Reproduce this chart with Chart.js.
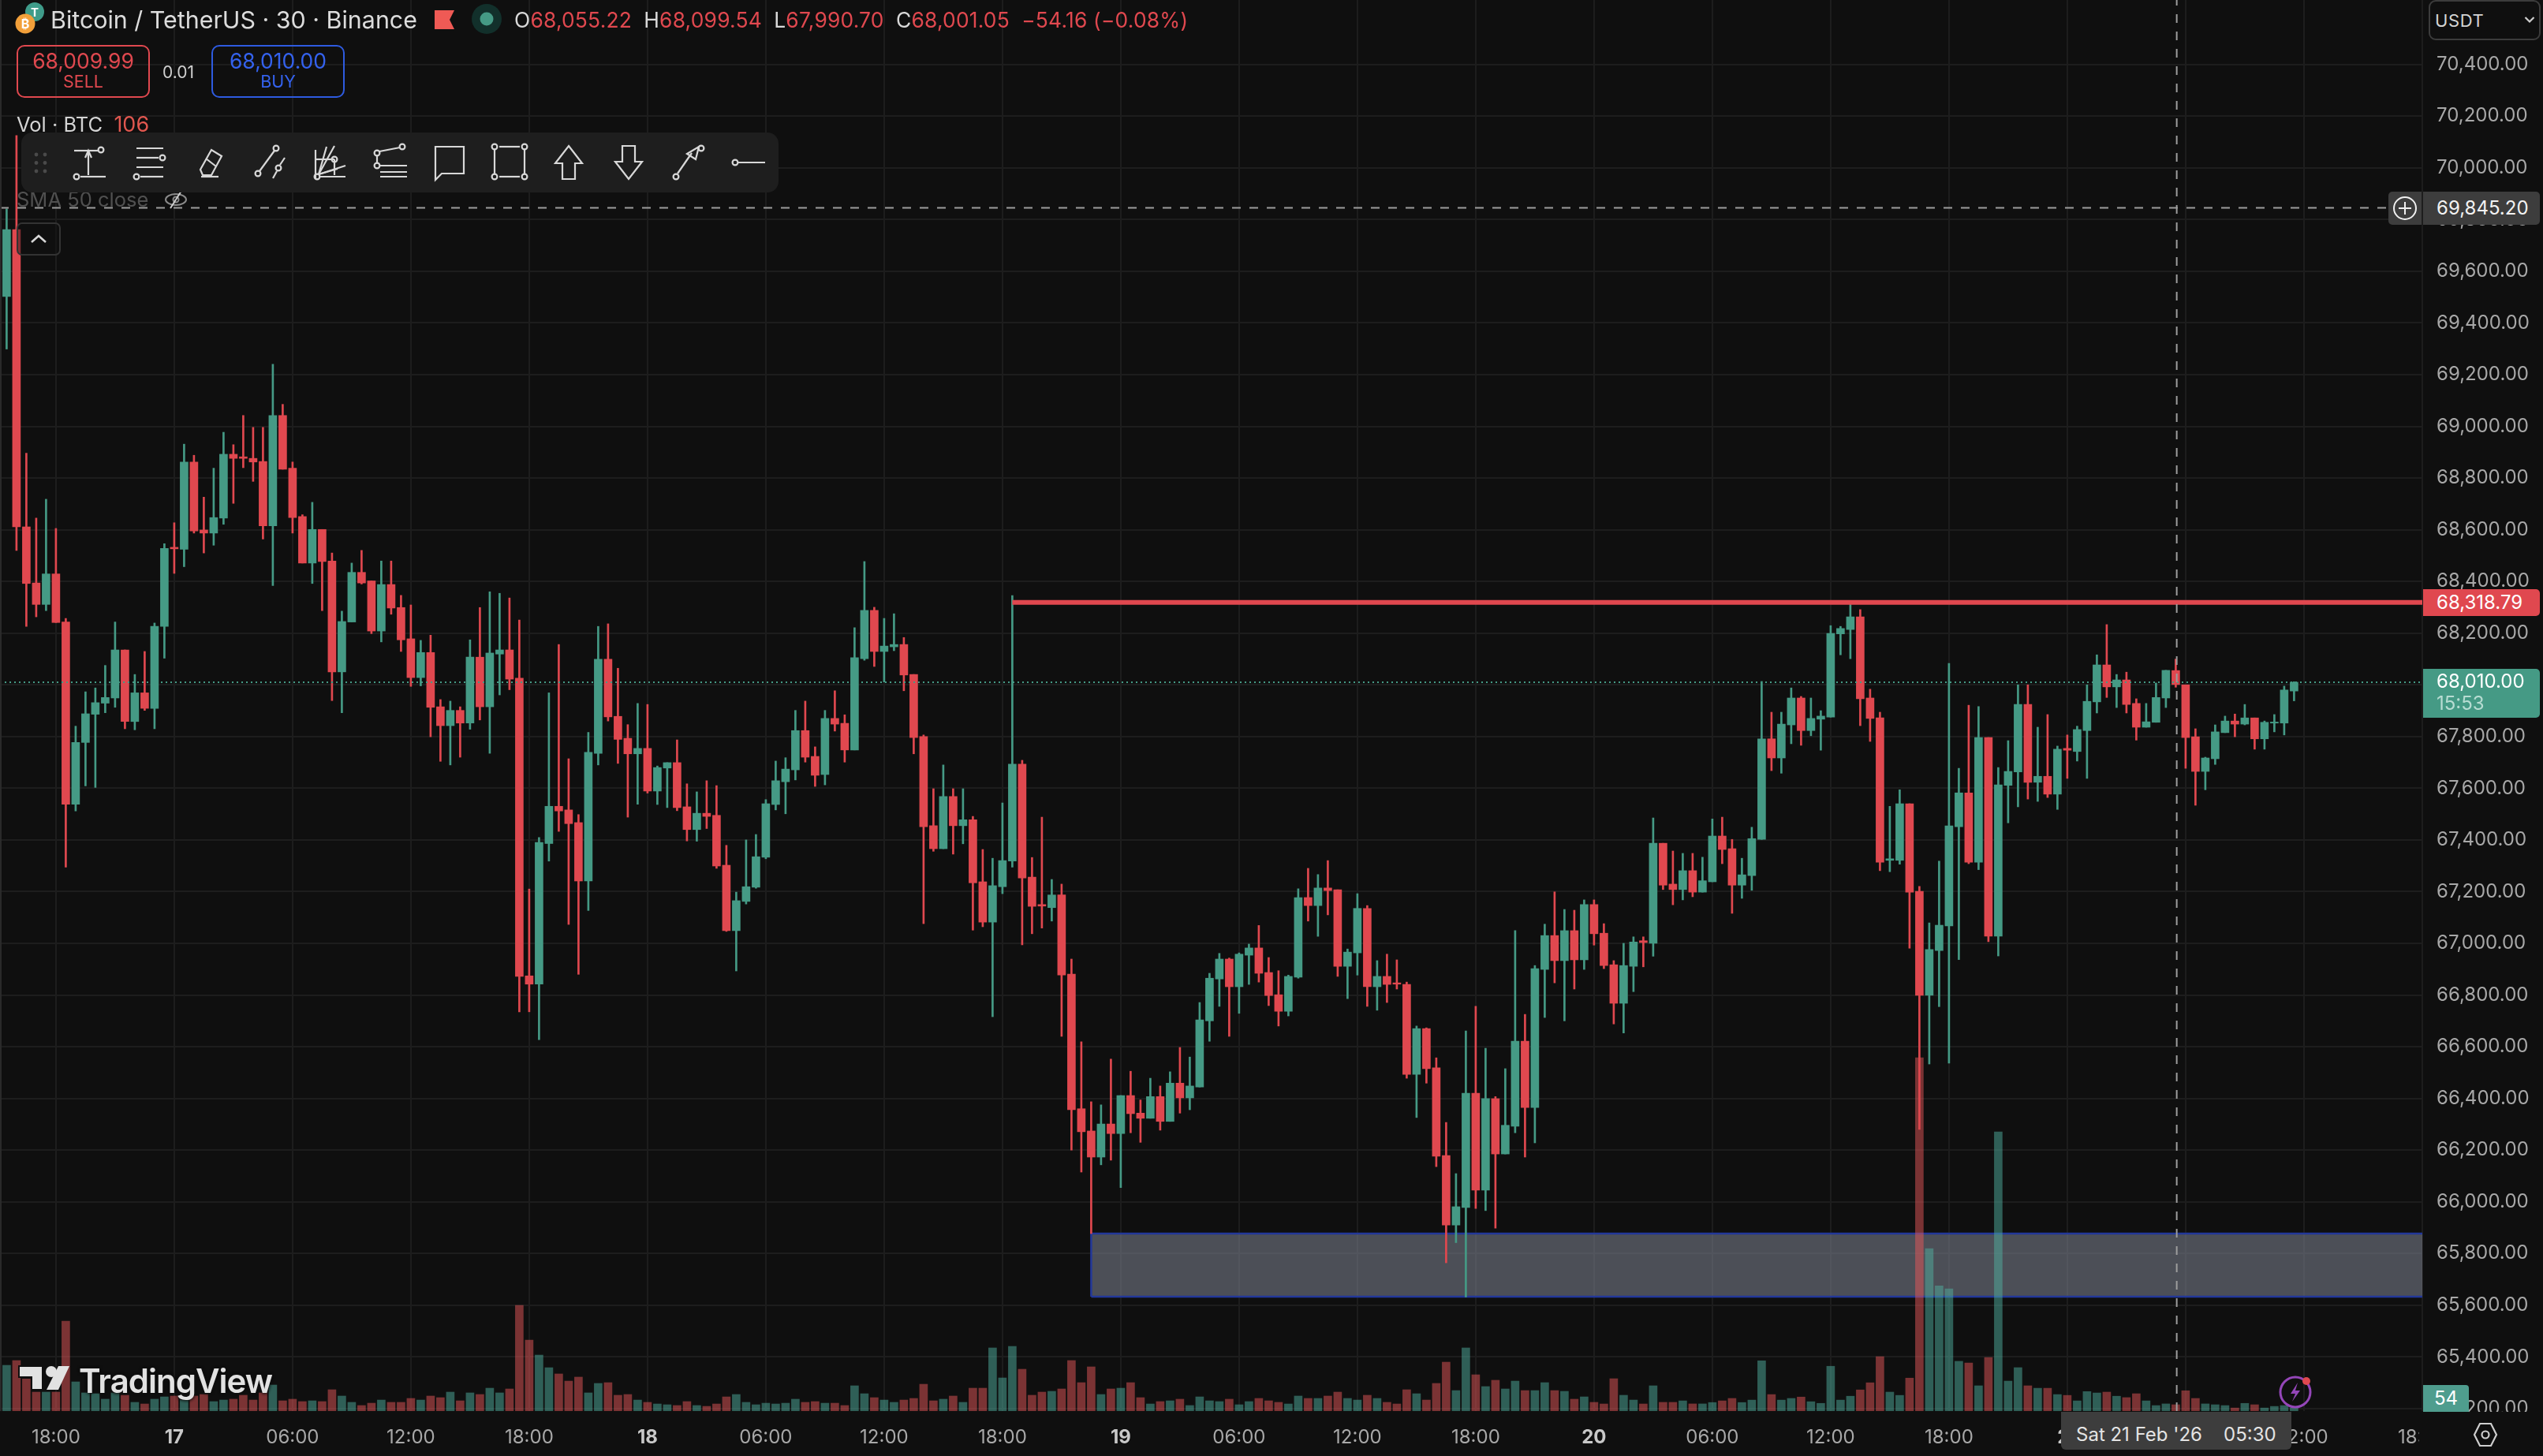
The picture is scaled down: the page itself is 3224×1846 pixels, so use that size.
<!DOCTYPE html>
<html><head><meta charset="utf-8">
<script src="https://cdn.jsdelivr.net/npm/chart.js@4"></script>
<style>
html,body{margin:0;padding:0;background:#0f0f0f;width:3224px;height:1846px;overflow:hidden}
#wrap{position:relative;width:3224px;height:1846px;font-family:Inter,"Liberation Sans",sans-serif;color:#d8d8d8}
canvas{position:absolute;left:0;top:0}
.a{position:absolute;white-space:nowrap;line-height:1}
.box{position:absolute;box-sizing:border-box}
.r{color:#e0484f}
svg{position:absolute;overflow:visible}
.ic *{fill:none;stroke:#d8d8d8;stroke-width:2.2}
</style></head><body><div id="wrap">
<canvas id="c" width="3224" height="1846" style="width:3224px;height:1846px"></canvas>
<div id="ui"></div>
</div>
<script>
// ---- data (30-minute candles, BTC/USDT) ----
const opens=[69502,69761,68611,68394,68311,68429,68243,67538,67777,67886,
67929,67949,68135,67858,67969,67909,68226,68532,68524,68862,
68599,68587,68645,68892,68882,68876,68864,68615,69042,68838,
68651,68471,68601,68479,68050,68243,68435,68402,68208,68388,
68299,68178,68028,68125,67915,67842,67901,67852,68107,67915,
68119,68135,68026,66874,66842,67386,67530,67516,67467,67241,
67735,68099,67878,67793,67733,67754,67589,67678,67699,67528,
67440,67503,67495,67302,67049,67162,67217,67333,67537,67625,
67671,67823,67723,67653,67870,67851,67748,68101,68288,68129,
68147,68156,68040,67800,67455,67366,67568,67455,67478,67238,
67082,67219,67318,67693,67256,67150,67138,67187,66881,66360,
66274,66173,66301,66264,66411,66343,66323,66407,66311,66459,
66402,66444,66700,66862,66939,66832,66954,66982,66887,66801,
66737,66869,67177,67146,67214,67207,66911,66963,67135,66832,
66872,66847,66841,66493,66670,66518,66179,65910,65978,66420,
66045,66399,66185,66292,66621,66365,66899,67030,66933,67049,
66936,67150,67039,66917,66768,66911,67010,67000,67387,67229,
67208,67281,67198,67238,67415,67366,67225,67262,67402,67791,
67717,67845,67949,67823,67867,67875,68197,68214,68263,67949,
67872,67321,67321,67540,67201,66799,66972,67067,67451,67582,
67314,67796,67028,67611,67663,67924,67623,67646,67577,67754,
67742,67823,67934,68077,67992,68019,67928,67836,67855,67949,
68055.22,68000,67799,67665,67714,67815,67860,67848,67872,67791,
67852,67852,67976];
const highs=[69841,70125,68896,68645,68718,68605,68257,67840,67973,67988,
68075,68243,68135,68040,68129,68239,68546,68627,68931,68888,
68726,68838,68977,68929,69042,68996,68996,69240,69085,68862,
68658,68706,68601,68510,68285,68471,68520,68402,68479,68479,
68346,68309,68172,68192,67943,67937,67915,68174,68299,68360,
68354,68336,68251,67210,67409,67969,68156,67714,67498,67816,
68226,68236,68064,67846,67928,67924,67686,67699,67787,67617,
67586,67629,67610,67379,67198,67400,67421,67556,67705,67718,
67901,67937,67760,67901,67977,67884,68221,68477,68300,68257,
68275,68183,68040,67806,67598,67690,67598,67598,67491,67363,
67329,67543,68345,67708,67332,67488,67247,67229,66939,66619,
66387,66375,66552,66411,66505,66394,66478,66448,66503,66597,
66560,66771,66884,66961,66943,66963,66997,67069,66945,66894,
66877,67211,67290,67266,67320,67207,66978,67192,67146,66933,
66958,66936,66850,66680,66673,66557,66307,66109,66661,66756,
66594,66407,66515,67049,66725,66914,67074,67199,67131,67128,
67168,67168,67076,66933,67000,67025,67025,67485,67387,67357,
67348,67348,67333,67481,67488,67402,67329,67449,68013,67894,
67894,67988,67955,67949,67900,68229,68226,68318,68291,67983,
67894,67530,67594,67540,67220,67079,67318,68083,67677,67921,
67916,67796,67680,67784,68000,68000,67836,67885,67763,67806,
67840,68000,68116,68233,68040,68049,67946,67928,68007,68056,
68099.54,68000,67830,67720,67845,67879,67887,67924,67872,67860,
67885,67995,68012];
const lows=[69299,68520,68226,68263,68287,68241,67295,67512,67609,67603,
67892,67913,67830,67826,67901,67830,68103,68431,68457,68587,
68510,68540,68621,68702,68840,68787,68564,68384,68834,68587,
68471,68392,68287,67939,67892,68243,68390,68198,68166,68273,
68129,67994,67996,67799,67704,67690,67720,67828,67864,67735,
67961,67981,66735,66735,66627,67318,67433,67073,66880,67127,
67690,67860,67696,67488,67538,67581,67537,67525,67513,67396,
67395,67444,67290,67046,66893,67152,67213,67327,67516,67501,
67632,67701,67607,67613,67821,67701,67748,68095,68071,68011,
68132,67977,67733,67076,67356,67366,67345,67385,67051,67064,
66716,67192,67295,66994,67037,67059,67086,66640,66200,66115,
65877,66143,66161,66055,66267,66230,66323,66277,66311,66343,
66356,66444,66621,66756,66640,66729,66841,66850,66759,66680,
66719,66865,67086,67027,67110,66872,66786,66877,66756,66741,
66771,66823,66478,66326,66459,66136,65764,65842,65632,65974,
65966,65898,66185,66267,66173,66228,66713,66847,66700,66823,
66899,66993,66902,66688,66653,66813,66909,66950,67208,67149,
67168,67180,67198,67238,67308,67116,67174,67205,67402,67668,
67658,67772,67766,67803,67747,67875,68116,68101,67842,67781,
67281,67277,67306,66981,66280,66533,66755,66536,66937,67308,
67285,67006,66951,67466,67528,67558,67549,67564,67518,67638,
67705,67638,67891,67951,67912,67891,67786,67836,67855,67912,
67990.70,67677,67534,67594,67692,67815,67799,67845,67751,67751,
67818,67806,67938];
const closes=[69761,68611,68392,68311,68429,68241,67538,67777,67888,67931,
67951,68135,67858,67969,67909,68226,68528,68526,68862,68595,
68587,68647,68892,68876,68876,68862,68615,69042,68834,68647,
68471,68601,68477,68050,68245,68435,68394,68208,68388,68297,
68174,68028,68125,67913,67842,67901,67852,68107,67915,68123,
68135,68022,66872,66842,67390,67530,67512,67463,67241,67739,
68099,67876,67789,67733,67754,67589,67680,67699,67525,67440,
67503,67491,67299,67049,67165,67219,67335,67540,67629,67674,
67823,67720,67650,67870,67848,67748,68105,68288,68129,68150,
68156,68038,67796,67451,67366,67568,67455,67478,67234,67082,
67223,67320,67693,67253,67143,67144,67187,66877,66356,66271,
66173,66301,66264,66411,66341,66323,66407,66311,66459,66402,
66448,66704,66865,66939,66832,66958,66982,66884,66798,66737,
66872,67177,67146,67214,67204,66911,66966,67135,66832,66872,
66841,66842,66493,66670,66515,66176,65910,65981,66420,66045,
66399,66185,66296,66621,66365,66902,67030,66933,67049,66936,
67150,67037,66914,66768,66914,67005,67003,67387,67225,67208,
67281,67198,67242,67415,67363,67225,67265,67405,67791,67717,
67848,67949,67823,67870,67879,68199,68218,68263,67946,67870,
67314,67327,67540,67198,66799,66976,67070,67454,67582,67314,
67796,67028,67613,67665,67924,67623,67646,67577,67751,67747,
67827,67936,68077,67992,68019,67924,67836,67857,67951,68056,
68001.05,67796,67665,67717,67818,67860,67848,67872,67791,67855,
67856,67980,68010];
const volumes=[768,848,539,318,318,318,1510,490,305,291,
199,305,265,146,119,199,238,252,185,252,
278,159,185,199,265,185,305,437,172,199,
159,172,159,358,252,146,93,132,185,146,
146,212,185,252,225,318,172,305,278,384,
305,371,1775,1192,940,728,623,503,570,305,
464,477,265,278,185,146,119,106,93,159,
93,79,119,238,278,146,106,132,119,132,
199,146,159,132,132,93,424,291,225,185,
146,185,212,450,172,199,252,146,384,384,
1060,556,1086,702,265,318,331,371,848,477,
742,278,371,384,477,225,119,159,172,199,
93,238,172,159,199,106,159,212,172,146,
119,252,212,212,252,318,212,185,265,212,
146,119,358,291,185,464,821,344,1060,609,
411,517,371,503,344,344,477,344,331,199,
238,146,119,543,265,185,119,424,146,146,
171,120,120,143,171,212,143,184,844,277,
184,212,235,157,129,752,184,249,355,475,
913,318,263,553,5931,2726,2103,2052,835,807,
424,899,4686,503,729,424,383,383,277,263,
171,327,304,318,249,226,291,171,92,120,
106,341,212,120,106,92,51,129,106,51,
78,92,54];
const xTickIndexes=[5,17,29,41,53,65,77,89,101,113,125,137,149,161,173,185,197,209,221,233,245];
const xTickLabels=["18:00","17","06:00","12:00","18:00","18","06:00","12:00","18:00","19","06:00","12:00","18:00","20","06:00","12:00","18:00","21","06:00","12:00","18:00"];
const dayLabels=["17","18","19","20","21"];
const yTickValues=[65200,65400,65600,65800,66000,66200,66400,66600,66800,67000,67200,67400,67600,67800,68000,68200,68400,68600,68800,69000,69200,69400,69600,69800,70000,70200,70400];
const resistanceLevel=68318.79, resistanceStart=102;
const lastPrice=68010;
const crosshairPrice=69845.20, crosshairIndex=220.1;
const zoneTop=65877, zoneBottom=65633, zoneStart=110;

// ---- view ----
const X_MIN=-0.672, X_MAX=245.008, Y_MIN=65190.5, Y_MAX=70649.3, VOL_MAX=23695;
const RED='#e0484f', GREEN2='#459a85';
const up=closes.map((c,i)=>c>=opens[i]);
const cols=up.map(u=>u?GREEN2:RED);
const volCols=up.map(u=>u?'rgba(80,175,160,.5)':'rgba(232,88,90,.5)');
const hline=(label,y,x0,x1,color,width,dash,order,extra)=>Object.assign({type:'line',label,data:[{x:x0,y},{x:x1,y}],borderColor:color,borderWidth:width,borderDash:dash||[],pointRadius:0,order,yAxisID:'y',xAxisID:'x'},extra||{});

new Chart(document.getElementById('c'),{
  data:{datasets:[
    hline('zoneTop',zoneTop,zoneStart,X_MAX,'#23389a',2.5,null,100,{fill:{value:zoneBottom},backgroundColor:'rgba(120,125,140,.58)'}),
    hline('zoneBottom',zoneBottom,zoneStart,X_MAX,'#23389a',2.5,null,99),
    {type:'line',label:'zoneLeft',data:[{x:zoneStart,y:zoneBottom},{x:zoneStart,y:zoneTop}],borderColor:'#23389a',borderWidth:2.5,pointRadius:0,order:99,yAxisID:'y',xAxisID:'x'},
    {type:'bar',label:'Volume',data:volumes.map((v,i)=>({x:i,y:v})),backgroundColor:volCols,barThickness:10,grouped:false,yAxisID:'yVol',xAxisID:'x',order:90},
    {type:'bar',label:'Wick',data:highs.map((h,i)=>({x:i,y:[lows[i],h]})),backgroundColor:cols,barThickness:2,grouped:false,yAxisID:'y',xAxisID:'x',order:50,borderSkipped:false},
    {type:'bar',label:'Body',data:opens.map((o,i)=>({x:i,y:[o,closes[i]]})),backgroundColor:cols,barThickness:10,grouped:false,yAxisID:'y',xAxisID:'x',order:40,borderSkipped:false},
    hline('Last',lastPrice,X_MIN,X_MAX,GREEN2,2,[2,4],30),
    hline('Resistance',resistanceLevel,resistanceStart,X_MAX,RED,6,null,25),
    hline('CrossH',crosshairPrice,X_MIN,X_MAX,'#9d9d9d',2,[11,11],20),
    {type:'line',label:'CrossV',data:[{x:crosshairIndex,y:Y_MIN},{x:crosshairIndex,y:Y_MAX}],borderColor:'#9d9d9d',borderWidth:2,borderDash:[11,11],pointRadius:0,order:20,yAxisID:'y',xAxisID:'x'}
  ]},
  options:{
    responsive:false,animation:false,devicePixelRatio:1,
    layout:{padding:0},
    plugins:{legend:{display:false},tooltip:{enabled:false}},
    events:[],
    scales:{
      x:{type:'linear',position:'bottom',offset:false,min:X_MIN,max:X_MAX,
        grid:{color:'#1d1d1d',lineWidth:2,drawTicks:false,offset:false},border:{display:false},
        afterBuildTicks:s=>{s.ticks=xTickIndexes.map(v=>({value:v}));},
        afterFit:s=>{s.height=57;s.paddingLeft=0;s.paddingRight=0;},
        ticks:{autoSkip:false,maxRotation:0,padding:19,color:c=>dayLabels.includes(xTickLabels[c.index])?'#c8c8c8':'#a8a8a8',
          font:c=>({family:'Inter',size:24,weight:dayLabels.includes(xTickLabels[c.index])?'700':'400'}),
          callback:(v,i)=>xTickLabels[i]}},
      y:{type:'linear',position:'right',min:Y_MIN,max:Y_MAX,
        grid:{color:'#1d1d1d',lineWidth:2,drawTicks:false},border:{display:false},
        afterBuildTicks:s=>{s.ticks=yTickValues.map(v=>({value:v}));},
        afterFit:s=>{s.width=153;s.paddingTop=0;s.paddingBottom=0;},
        ticks:{autoSkip:false,padding:18,color:'#a8a8a8',font:{family:'Inter',size:24},
          callback:v=>v.toLocaleString('en-US',{minimumFractionDigits:2,maximumFractionDigits:2})}},
      yVol:{type:'linear',display:false,min:0,max:VOL_MAX}
    }
  }
});

// ---- interface chrome around the chart ----
const T=(x,y,s,txt,css)=>`<div class="a" style="left:${x}px;top:${y-s/2}px;font-size:${s}px;${css||''}">${txt}</div>`;
const B=(x,y,w,h,css)=>`<div class="box" style="left:${x}px;top:${y}px;width:${w}px;height:${h}px;${css||''}"></div>`;
const ICON=(cx,inner)=>`<svg class="ic" style="left:${cx-24}px;top:182px" width="48" height="48" viewBox="0 0 48 48">${inner}</svg>`;
const o=(x,y)=>`<circle cx="${x}" cy="${y}" r="3.4"/>`;
const l=(a,b,c,d)=>`<line x1="${a}" y1="${b}" x2="${c}" y2="${d}"/>`;
let h='';
h+=`<svg style="left:20px;top:0" width="50" height="46"><circle cx="24" cy="15" r="12" fill="#3f9c8a"/><text x="24" y="21" font-size="15" font-weight="700" font-family="Inter" text-anchor="middle" fill="#fff">T</text><circle cx="12" cy="30" r="12.5" fill="#f2a03a"/><text x="12" y="36" font-size="16" font-weight="700" font-family="Inter" text-anchor="middle" fill="#fff">₿</text></svg>`;
h+=T(64,25,30.4,'Bitcoin / TetherUS · 30 · Binance','color:#dcdcdc');
h+=`<svg style="left:551px;top:13px" width="25" height="24"><path d="M0 0H25L19 12L25 24H0Z" fill="#ef5a55"/></svg>`;
h+=`<svg style="left:597px;top:4px" width="40" height="40"><circle cx="20" cy="20" r="19" fill="#12302b"/><circle cx="20" cy="20" r="8.5" fill="#459a85"/></svg>`;
h+=T(652,25,26.4,`O<span class="r">68,055.22</span> &nbsp;H<span class="r">68,099.54</span> &nbsp;L<span class="r">67,990.70</span> &nbsp;C<span class="r">68,001.05</span> <span class="r">&nbsp;−54.16 (−0.08%)</span>`,'letter-spacing:.2px');
h+=B(21,57,169,67,'border:2.5px solid #e0484f;border-radius:10px');
h+=T(21,77,26.5,'68,009.99','color:#e0484f;width:169px;text-align:center');
h+=T(21,104,21.5,'SELL','color:#e0484f;width:169px;text-align:center');
h+=T(206,91,21,'0.01','color:#cfcfcf');
h+=B(268,57,169,67,'border:2.5px solid #2e5be0;border-radius:10px');
h+=T(268,77,26.5,'68,010.00','color:#3462ee;width:169px;text-align:center');
h+=T(268,104,21.5,'BUY','color:#3462ee;width:169px;text-align:center');
h+=T(21,157,25.5,'Vol · BTC &nbsp;<span style="color:#e0574f;font-size:27px">106</span>','color:#d4d4d4');
h+=T(21,253,25.5,'SMA 50 close','color:#505050');
h+=`<svg style="left:208px;top:240px" width="30" height="26"><ellipse cx="15" cy="13" rx="13" ry="7" fill="none" stroke="#8a8a8a" stroke-width="2"/><circle cx="15" cy="13" r="3.5" fill="none" stroke="#8a8a8a" stroke-width="2"/><line x1="22" y1="2" x2="8" y2="24" stroke="#cfcfcf" stroke-width="2"/></svg>`;
h+=B(27,168,960,76,'background:#1e1e1e;border-radius:14px');
h+=`<svg style="left:42px;top:192px" width="20" height="30">`+[0,1,2].map(r=>[0,1].map(c=>`<circle cx="${4+c*11}" cy="${4+r*10.5}" r="2.4" fill="#4a4a4a"/>`).join('')).join('')+`</svg>`;
const ix=[114,190,267,342,418,494,570,646,721,797,873,950];
h+=ICON(ix[0],l(4,9,34,9)+o(38,8)+l(22,40,22,10)+'<path d="M18 18L22 9L26 18" fill="#d8d8d8"/>'+l(12,42,44,42)+o(7,42));
h+=ICON(ix[1],l(7,6,41,6)+l(7,18,35,18)+o(40,18)+l(7,30,41,30)+l(12,42,41,42)+o(7,42));
h+=ICON(ix[2],'<path d="M11 33L25 8L38 16L25 40H14Z"/>'+l(18,19,31,29)+l(12,42,34,42));
h+=ICON(ix[3],o(9,38)+l(11,35,30,9)+o(32,6)+o(35,31)+l(37,27,43,18)+l(33,35,28,44));
h+=ICON(ix[4],o(8,42)+l(10,39,30,3)+l(10,39,20,4)+l(10,39,34,32)+l(10,39,44,28)+l(6,8,6,44)+l(6,20,30,20)+l(30,20,30,40)+l(10,42,44,42)+o(30,20));
h+=ICON(ix[5],o(8,12)+o(40,4)+l(11,10,37,5)+l(8,15,8,24)+o(8,28)+l(12,28,46,28)+l(12,42,46,42)+l(12,36,46,36));
h+=ICON(ix[6],'<path d="M6 4H42V38H14L6 46Z" stroke-linejoin="miter"/>');
h+=ICON(ix[7],l(11,4,37,4)+l(11,42,37,42)+l(5,8,5,38)+l(43,8,43,38)+o(5,4)+o(43,4)+o(5,42)+o(43,42));
h+=ICON(ix[8],'<path d="M24 3L41 25H32V45H16V25H7Z"/>');
h+=ICON(ix[9],'<path d="M16 3H32V23H41L24 45L7 23H16Z"/>');
h+=ICON(ix[10],o(8,42)+l(10,38,28,12)+o(40,6)+'<path d="M22 13L37 4L33 20Z" fill="#d8d8d8"/>');
h+=ICON(ix[11],o(6,24)+l(10,24,44,24));
h+=B(21,282,56,42,'border:2px solid #333;border-radius:7px;background:rgba(15,15,15,.45)');
h+=`<svg style="left:38px;top:296px" width="22" height="14"><path d="M2 11L11 3L20 11" fill="none" stroke="#d8d8d8" stroke-width="2.6"/></svg>`;
h+=B(3072,0,152,56,'background:#0f0f0f');
h+=B(3079,0,142,51,'border:2px solid #3c3c3c;border-radius:9px');
h+=T(3087,26,22,'USDT','color:#d4d4d4;letter-spacing:.6px');
h+=`<svg style="left:3200px;top:20px" width="14" height="10"><path d="M1.5 2L7 7.5L12.5 2" fill="none" stroke="#cfcfcf" stroke-width="2.2"/></svg>`;
h+=B(3028,243,42,42,'background:#3d3d3d;border-radius:5px 0 0 5px');
h+=`<svg style="left:3034px;top:249px" width="30" height="30"><circle cx="15" cy="15" r="14" fill="none" stroke="#f0f0f0" stroke-width="2"/><path d="M15 7V23M7 15H23" stroke="#f0f0f0" stroke-width="2"/></svg>`;
h+=B(3072,243,148,42,'background:#3d3d3d;border-radius:0 5px 5px 0');
h+=T(3089,264,24,'69,845.20','color:#f2f2f2');
h+=B(3072,747,148,34,'background:#e0484f;border-radius:0 5px 5px 0');
h+=T(3089,764,24,'68,318.79','color:#fff');
h+=B(3072,848,148,62,'background:#459a85;border-radius:0 5px 5px 0');
h+=T(3089,864,24,'68,010.00','color:#fff');
h+=T(3089,892,24,'15:53','color:#b7dcd2');
h+=T(100,1751,42,'TradingView','color:#e2e2e2;font-weight:600;letter-spacing:-1px;text-shadow:0 0 4px #0f0f0f,0 0 4px #0f0f0f');
h+=`<svg style="left:22px;top:1729px" width="68" height="36"><path d="M2 3H32V33H18V17H2Z" fill="#e2e2e2" stroke="#0f0f0f" stroke-width="2"/><circle cx="43" cy="10" r="7" fill="#e2e2e2"/><path d="M52 3H66L52 33H37Z" fill="#e2e2e2"/></svg>`;
h+=`<svg style="left:2885px;top:1738px" width="50" height="52"><circle cx="25" cy="27" r="19" fill="none" stroke="#9446b8" stroke-width="3"/><path d="M28 15L19 29H25L21 39L31 25H25Z" fill="#9446b8"/><circle cx="39" cy="13" r="5" fill="#e0484f"/></svg>`;
h+=B(2613,1790,292,48,'background:#3d3d3d;border-radius:0 0 6px 6px');
h+=T(2632,1819,24,"Sat 21 Feb '26",'color:#e4e4e4');
h+=T(2819,1819,24,'05:30','color:#e4e4e4');
h+=B(3067,1790,157,56,'background:#0f0f0f');
h+=B(3072,1756,58,34,'background:#4f9d8e;border-radius:0 4px 0 0');
h+=T(3072,1773,24,'54','color:#fff;width:58px;text-align:center');
h+=`<svg style="left:3136px;top:1803px" width="30" height="32"><path d="M8 2H22L29 16L22 30H8L1 16Z" fill="none" stroke="#cfcfcf" stroke-width="2.2"/><circle cx="15" cy="16" r="4.5" fill="none" stroke="#cfcfcf" stroke-width="2.2"/></svg>`;
h+=B(0,0,2,1789,'background:#2a2a2a');
document.getElementById('ui').innerHTML=h;
</script></body></html>
